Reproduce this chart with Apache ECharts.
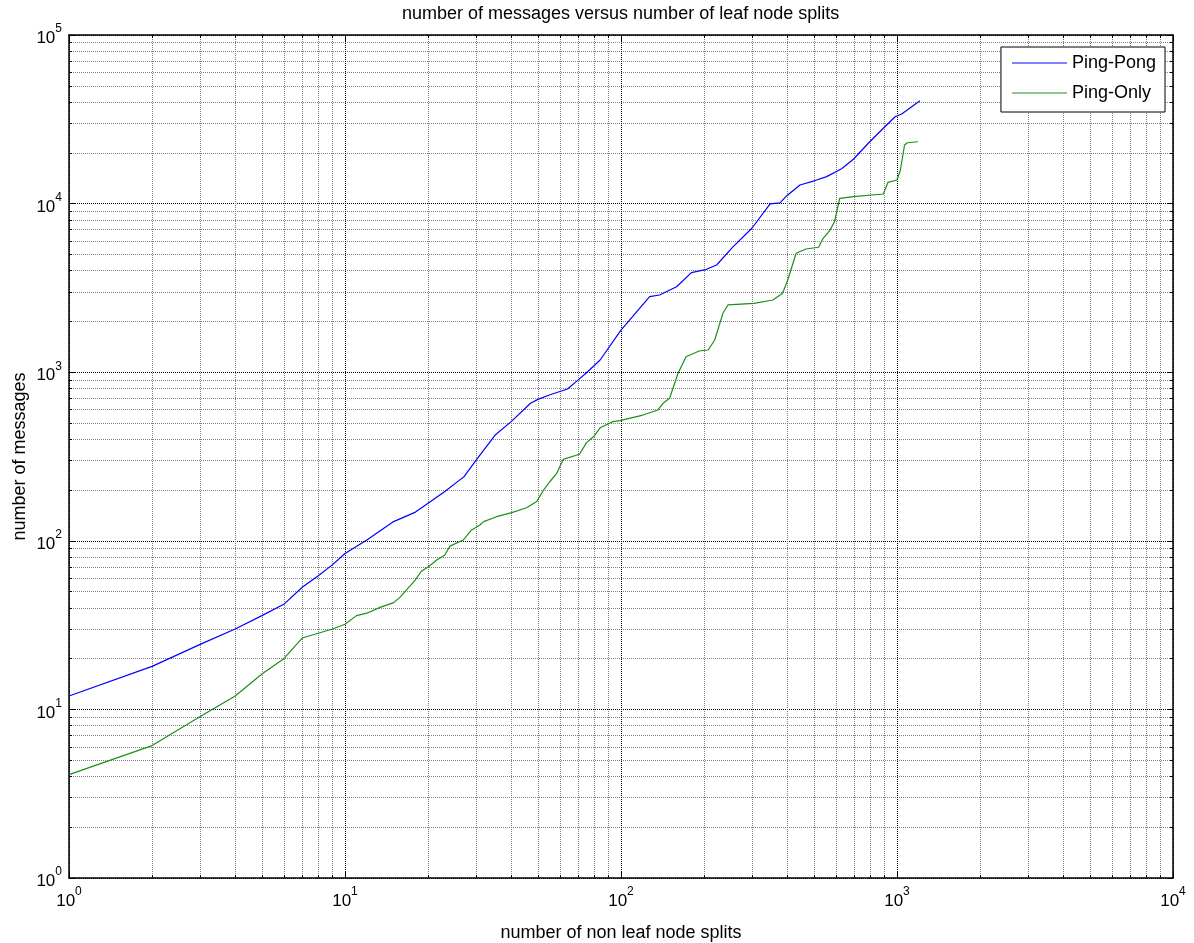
<!DOCTYPE html>
<html>
<head>
<meta charset="utf-8">
<script src="https://cdn.jsdelivr.net/npm/echarts@6/dist/echarts.min.js"></script>
<style>
html, body { margin: 0; padding: 0; background: #fff; }
#chart { width: 1194px; height: 943px; }
</style>
</head>
<body>
<div id="chart"></div>
<script>
// Ping-Pong curve (blue)
const pongX = [1, 2, 3, 4, 5, 6, 7, 8, 9, 10, 12, 15, 18, 20, 23, 26, 27, 30, 35, 40, 47, 50, 55, 64, 70, 75, 84,
  100, 127, 138, 159, 180, 204, 222, 255, 298, 347, 377, 398, 445, 505, 556, 630, 695, 787, 892, 984, 1040, 1211];
const pongY = [12, 18, 24.4, 30, 36, 42, 53, 62, 72, 84, 101, 130, 148, 167, 196, 229, 240, 304, 424, 509, 654, 690, 732, 795, 900, 993, 1181,
  1778, 2805, 2871, 3214, 3894, 4077, 4323, 5555, 7142, 9950, 10100, 11100, 12900, 13700, 14450, 16100, 18330, 22800, 27980, 32750, 33980, 40800];

// Ping-Only curve (green)
const onlyX = [1, 2, 3, 4, 5, 6, 7, 8, 9, 10, 11, 12, 13.4, 15, 15.8, 17.9, 18.9, 20, 21.5, 23, 24, 26.8, 28.6, 30.8, 31.8, 35.4, 40.2, 45.5, 49.5,
  52.4, 55.2, 58.5, 61.7, 70.7, 75, 79.5, 84, 93.5, 99, 120, 136, 142, 150, 161, 172, 192, 207, 218.5, 234, 244, 303, 355, 385, 402,
  431, 468, 520, 540, 572, 594, 620, 695, 892, 928, 1000, 1029, 1065, 1090, 1190];
const onlyY = [4.1, 6.1, 9.1, 12, 16.2, 20, 26.5, 28.3, 30, 32, 36, 37.2, 40.3, 43, 46.2, 58, 66, 70, 77, 82.4, 93, 101, 115, 124, 130, 139, 147, 157, 171,
  200, 224, 251, 304, 326, 382, 414, 468, 509, 516, 557, 597, 654, 700, 985, 1236, 1336, 1354, 1553, 2235, 2505, 2563, 2680, 2937, 3524,
  5073, 5380, 5510, 6226, 6970, 7817, 10740, 10990, 11400, 13370, 13800, 15820, 22270, 22960, 23280];

const seriesNames = ['Ping-Pong', 'Ping-Only'];
const xRange = [1, 10000];
const yRange = [1, 100000];

const FONT = "'Liberation Sans', Arial, sans-serif";

function zip(xs, ys) {
  return xs.map((x, i) => [x, ys[i]]);
}

function powLabel(v) {
  const e = Math.round(Math.log10(v));
  return '{b|10}{e|' + e + '}';
}

const powRich = {
  b: { fontSize: 17, fontFamily: FONT, color: '#000', verticalAlign: 'bottom', lineHeight: 24 },
  e: { fontSize: 12, fontFamily: FONT, color: '#000', verticalAlign: 'top', lineHeight: 24 }
};

const majorGrid = { show: true, lineStyle: { color: '#000', width: 1, type: [1, 1] } };
const minorGrid = { show: true, lineStyle: { color: '#808080', width: 1, type: [1, 1] } };
const tick = { show: true, inside: true, length: 6, lineStyle: { color: '#000', width: 1 } };
const mtick = { show: true, inside: true, length: 3, splitNumber: 9, lineStyle: { color: '#000', width: 1 } };
const boxLine = { show: true, onZero: false, lineStyle: { color: '#000', width: 1.5 } };

function logAxis(range, extra) {
  return Object.assign({
    type: 'log',
    logBase: 10,
    min: range[0],
    max: range[1],
    axisLine: boxLine,
    axisTick: tick,
    minorTick: mtick
  }, extra);
}

const chart = echarts.init(document.getElementById('chart'));
chart.setOption({
  animation: false,
  backgroundColor: '#fff',
  title: {
    text: 'number of messages versus number of leaf node splits',
    left: 402,
    top: 5,
    padding: 0,
    textStyle: { fontSize: 18, fontWeight: 'normal', fontFamily: FONT, color: '#000' }
  },
  grid: { left: 69, right: 21, top: 35, bottom: 65, containLabel: false, outerBoundsMode: 'none' },
  legend: {
    data: seriesNames,
    orient: 'vertical',
    right: 29,
    top: 47,
    icon: 'rect',
    backgroundColor: '#fff',
    borderColor: '#000',
    borderWidth: 1,
    padding: [6, 9, 9, 11],
    itemGap: 10,
    itemWidth: 55,
    itemHeight: 1,
    textStyle: { fontSize: 18, lineHeight: 20, fontFamily: FONT, color: '#000' }
  },
  xAxis: [
    logAxis(xRange, {
      position: 'bottom',
      name: 'number of non leaf node splits',
      nameLocation: 'middle',
      nameGap: 46,
      nameTextStyle: { fontSize: 18, fontFamily: FONT, color: '#000' },
      axisLabel: { formatter: powLabel, rich: powRich, margin: 8 },
      splitLine: majorGrid,
      minorSplitLine: minorGrid
    }),
    logAxis(xRange, {
      position: 'top',
      axisLabel: { show: false },
      splitLine: { show: false }
    })
  ],
  yAxis: [
    logAxis(yRange, {
      position: 'left',
      name: 'number of messages',
      nameLocation: 'middle',
      nameGap: 40,
      nameMoveOverlap: false,
      nameTextStyle: { fontSize: 18, fontFamily: FONT, color: '#000' },
      axisLabel: { formatter: powLabel, rich: powRich, margin: 7 },
      splitLine: majorGrid,
      minorSplitLine: minorGrid
    }),
    logAxis(yRange, {
      position: 'right',
      axisLabel: { show: false },
      splitLine: { show: false }
    })
  ],
  series: [
    {
      name: seriesNames[0],
      type: 'line',
      symbol: 'none',
      data: zip(pongX, pongY),
      lineStyle: { color: '#0000ff', width: 1.2 },
      itemStyle: { color: '#0000ff' }
    },
    {
      name: seriesNames[1],
      type: 'line',
      symbol: 'none',
      data: zip(onlyX, onlyY),
      lineStyle: { color: '#1a8f1a', width: 1.2 },
      itemStyle: { color: '#1a8f1a' }
    }
  ]
});
</script>
</body>
</html>
